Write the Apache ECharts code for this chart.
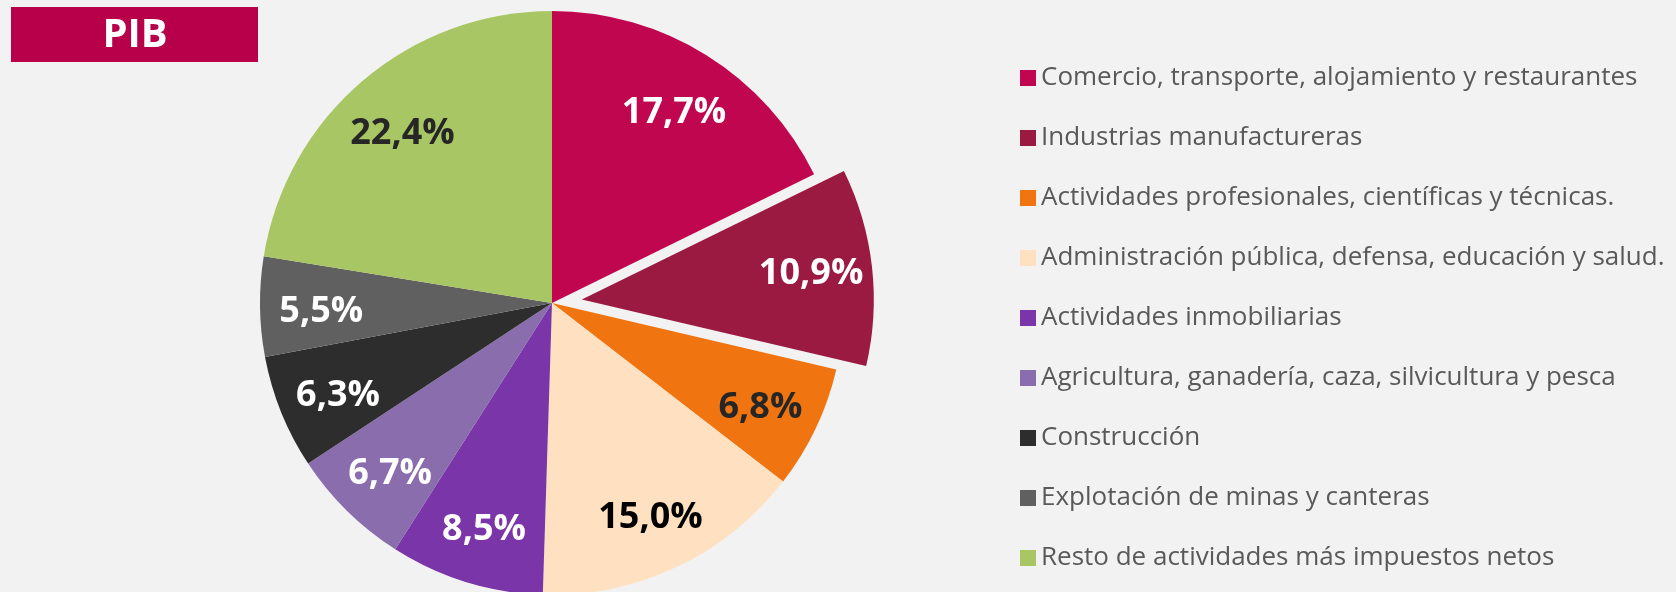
<!DOCTYPE html>
<html>
<head>
<meta charset="utf-8">
<title>PIB</title>
<script src="https://cdn.jsdelivr.net/npm/echarts@6/dist/echarts.min.js"></script>
<style>
  html, body { margin: 0; padding: 0; background: #F2F2F2; }
  #chart { width: 1676px; height: 592px; }
</style>
</head>
<body>
<div id="chart"></div>
<script>
// sectores del PIB (%)
const sectores = [
  'Comercio, transporte, alojamiento y restaurantes',
  'Industrias manufactureras',
  'Actividades profesionales, científicas y técnicas.',
  'Administración pública, defensa, educación y salud.',
  'Actividades inmobiliarias',
  'Agricultura, ganadería, caza, silvicultura y pesca',
  'Construcción',
  'Explotación de minas y canteras',
  'Resto de actividades más impuestos netos'
];
const valores = [17.7, 10.9, 6.8, 15.0, 8.5, 6.7, 6.3, 5.5, 22.4];
const colores = ['#C0064F', '#9B1A42', '#F07511', '#FFE1C1', '#7A35A8', '#8A6DAD', '#2D2D2D', '#606060', '#A8C764'];
const coloresEtiqueta = ['#FFFFFF', '#FFFFFF', '#262626', '#000000', '#FFFFFF', '#FFFFFF', '#FFFFFF', '#FFFFFF', '#262626'];
const destacado = 1; // porción separada

let chart = echarts.init(document.getElementById('chart'));

let centro = [552, 303],
  radio = 292;

let datosPie = sectores.map((n, i) => ({
  name: n,
  value: valores[i],
  selected: i === destacado,
  itemStyle: { color: colores[i] }
}));

// serie transparente solo para colocar las etiquetas más hacia fuera
let datosEtiq = sectores.map((n, i) => ({
  name: n,
  value: valores[i],
  selected: i === destacado,
  itemStyle: { color: 'rgba(0,0,0,0)' },
  label: { color: coloresEtiqueta[i] }
}));

let option = {
  backgroundColor: '#F2F2F2',
  animation: false,
  graphic: [{
    type: 'rect',
    left: 11,
    top: 7,
    shape: { width: 247, height: 55 },
    style: { fill: '#B8004A' }
  }, {
    type: 'text',
    style: {
      text: 'PIB',
      x: 135,
      y: 36,
      align: 'center',
      verticalAlign: 'middle',
      fill: '#FFFFFF',
      font: 'bold 40px "Open Sans", sans-serif'
    }
  }],
  legend: {
    orient: 'vertical',
    left: 1015,
    top: 58,
    itemWidth: 16,
    itemHeight: 16,
    itemGap: 30,
    icon: 'rect',
    data: sectores,
    textStyle: {
      color: '#595959',
      fontSize: 26,
      fontFamily: '"Open Sans", sans-serif',
      lineHeight: 30
    },
    selectedMode: false
  },
  series: [{
    name: 'PIB',
    type: 'pie',
    center: centro,
    radius: radio,
    startAngle: 90,
    clockwise: true,
    selectedMode: 'single',
    selectedOffset: 30,
    silent: true,
    label: { show: false },
    labelLine: { show: false },
    data: datosPie
  }, {
    name: 'etiquetas',
    type: 'pie',
    center: centro,
    radius: [radio * 0.56, radio],
    startAngle: 90,
    clockwise: true,
    selectedMode: 'single',
    selectedOffset: 30,
    silent: true,
    label: {
      show: true,
      position: 'inside',
      fontSize: 36,
      fontWeight: 'bold',
      fontFamily: '"Open Sans", sans-serif',
      offset: [0, 6],
      formatter: p => p.value.toFixed(1).replace('.', ',') + '%'
    },
    labelLine: { show: false },
    data: datosEtiq
  }]
};

chart.setOption(option);
</script>
</body>
</html>
